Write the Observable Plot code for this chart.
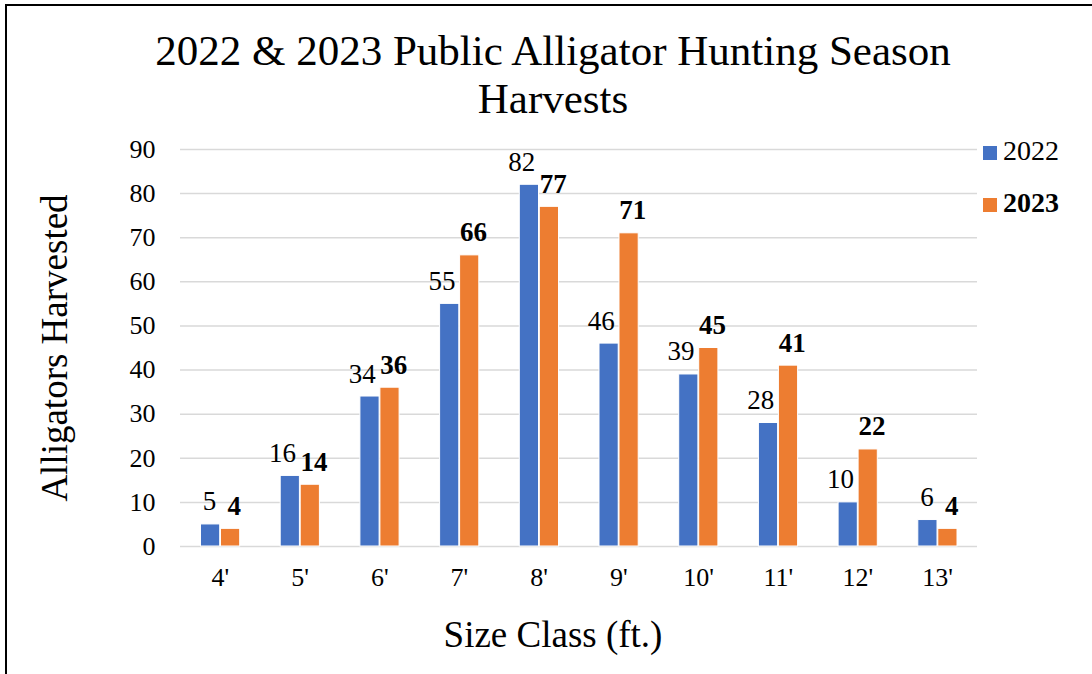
<!DOCTYPE html>
<html>
<head>
<meta charset="utf-8">
<script src="https://cdn.jsdelivr.net/npm/d3@7"></script>
<script src="https://cdn.jsdelivr.net/npm/@observablehq/plot@0.6"></script>
<style>
  html, body { margin: 0; padding: 0; background: #fff; }
  #chart {
    position: relative; width: 1092px; height: 674px; overflow: hidden;
    font-family: "Liberation Serif", "Times New Roman", serif; color: #000;
  }
  #frame {
    position: absolute; left: 5px; top: 4px; width: 1200px; height: 800px;
    border-left: 2px solid #000; border-top: 2px solid #000;
  }
  #title {
    position: absolute; left: 0; width: 1106px; top: 27px; text-align: center;
    font-size: 43px; line-height: 48px;
  }
  #plot { position: absolute; left: 0; top: 125px; }
  #plot svg, #plot svg text { font-family: "Liberation Serif", "Times New Roman", serif !important; }
  #xlabel {
    position: absolute; left: 0; width: 1106px; top: 613px; text-align: center;
    font-size: 37px; line-height: 44px;
  }
  #legend { position: absolute; left: 983px; top: 132px; font-size: 28px; }
  .item { position: relative; height: 52px; line-height: 38px; }
  .sw { display: inline-block; width: 14px; height: 14px; margin-right: 6px; vertical-align: 0px; }
</style>
</head>
<body>
<div id="chart">
  <div id="frame"></div>
  <div id="title">2022 &amp; 2023 Public Alligator Hunting Season<br>Harvests</div>
  <div id="plot"></div>
  <div id="xlabel">Size Class (ft.)</div>
  <div id="legend"></div>
</div>
<script>
// Alligator harvest counts by size class
const sizes = ["4'", "5'", "6'", "7'", "8'", "9'", "10'", "11'", "12'", "13'"];
const harvest2022 = [5, 16, 34, 55, 82, 46, 39, 28, 10, 6];
const harvest2023 = [4, 14, 36, 66, 77, 71, 45, 41, 22, 4];
const yTicks = [0, 10, 20, 30, 40, 50, 60, 70, 80, 90];
const seriesNames = ["2022", "2023"];
const colors = ["#4472C4", "#ED7D31"];

const rows2022 = sizes.map((s, i) => ({size: s, value: harvest2022[i]}));
const rows2023 = sizes.map((s, i) => ({size: s, value: harvest2023[i]}));

const font = "Liberation Serif";

const chart = Plot.plot({
  width: 1092,
  height: 480,
  marginLeft: 180,
  marginRight: 115,
  marginTop: 24,
  marginBottom: 59,
  style: {fontFamily: font, background: "transparent", color: "#000"},
  x: {domain: sizes, paddingInner: 0, paddingOuter: 0, round: false, label: null},
  y: {domain: [0, 90], label: "Alligators Harvested"},
  marks: [
    Plot.gridY(yTicks, {stroke: "#d9d9d9", strokeOpacity: 1, strokeWidth: 1.5}),
    Plot.axisY(yTicks, {
      tickSize: 0, tickPadding: 25, fontSize: 26, fontFamily: font, label: null
    }),
    Plot.axisY([], {
      label: "Alligators Harvested", labelAnchor: "center", labelArrow: "none",
      labelOffset: 140, fontSize: 37, fontFamily: font, tickSize: 0
    }),
    Plot.axisX({tickSize: 0, tickPadding: 21, fontSize: 26, fontFamily: font, label: null}),
    Plot.barY(rows2022, {
      x: "size", y: "value", fill: colors[0], stroke: "#fff", strokeWidth: 1,
      insetLeft: 20.5, insetRight: 40
    }),
    Plot.barY(rows2023, {
      x: "size", y: "value", fill: colors[1], stroke: "#fff", strokeWidth: 1,
      insetLeft: 40.5, insetRight: 20
    }),
    // 2022 values sit just left of their bars, 2023 values in bold
    Plot.text(rows2022, {
      x: "size", y: "value", text: d => String(d.value), dx: -4, dy: -14,
      textAnchor: "end", lineAnchor: "bottom", fontSize: 27, fontFamily: font, fill: "#000"
    }),
    Plot.text(rows2023, {
      x: "size", y: "value", text: d => String(d.value), dx: 14, dy: -14,
      lineAnchor: "bottom", fontSize: 27, fontWeight: "bold", fontFamily: font, fill: "#000"
    })
  ]
});
document.getElementById("plot").appendChild(chart);

// Legend
const legend = document.getElementById("legend");
seriesNames.forEach((name, i) => {
  const item = document.createElement("div");
  item.className = "item";
  if (i === 1) item.style.fontWeight = "bold";
  const sw = document.createElement("span");
  sw.className = "sw";
  sw.style.background = colors[i];
  item.appendChild(sw);
  item.appendChild(document.createTextNode(name));
  legend.appendChild(item);
});
</script>
</body>
</html>
